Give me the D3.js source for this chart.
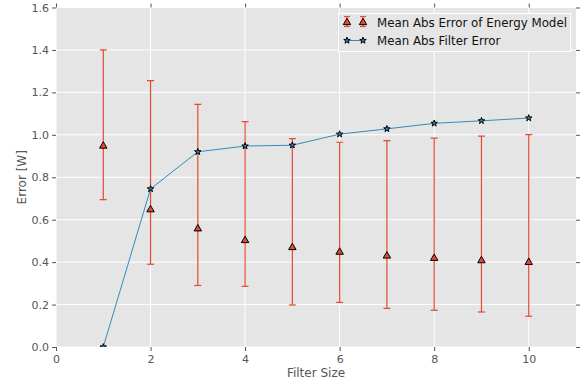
<!DOCTYPE html>
<html><head><meta charset="utf-8">
<script src="https://cdn.jsdelivr.net/npm/d3@7"></script>
<style>body{margin:0;background:#fff}svg{display:block}text{font-family:"DejaVu Sans",sans-serif}</style>
</head><body>
<script>
const filterSizes = [1,2,3,4,5,6,7,8,9,10];
const energyMean = [0.95,0.65,0.56,0.505,0.472,0.45,0.432,0.421,0.41,0.402];
const energyUpper = [1.40,1.255,1.143,1.062,0.982,0.965,0.973,0.984,0.994,1.001];
const energyLower = [0.695,0.39,0.29,0.286,0.198,0.21,0.182,0.173,0.165,0.145];
const filterError = [0.0,0.745,0.92,0.947,0.951,1.003,1.028,1.054,1.066,1.079];
const xTicks = [0,2,4,6,8,10];
const yTicks = [0.0,0.2,0.4,0.6,0.8,1.0,1.2,1.4,1.6];

const W=582,H=383, L=56, R=576, T=7.5, B=347;
const svg=d3.select("body").append("svg").attr("width",W).attr("height",H);
svg.append("clipPath").attr("id","clip").append("rect").attr("x",L).attr("y",T).attr("width",R-L).attr("height",B-T);
const x=d3.scaleLinear().domain([0,11]).range([L,R]);
const y=d3.scaleLinear().domain([0,1.6]).range([B,T]);
svg.append("rect").attr("x",L).attr("y",T).attr("width",R-L).attr("height",B-T).attr("fill","#E5E5E5");
const g=svg.append("g");
g.selectAll(".gx").data(xTicks).join("line").attr("x1",d=>x(d)).attr("x2",d=>x(d)).attr("y1",T).attr("y2",B).attr("stroke","#fff").attr("stroke-width",1);
g.selectAll(".gy").data(yTicks).join("line").attr("y1",d=>y(d)).attr("y2",d=>y(d)).attr("x1",L).attr("x2",R).attr("stroke","#fff").attr("stroke-width",1);

const tc="#555";
const xa=svg.append("g").attr("transform",`translate(0,${B})`).call(d3.axisBottom(x).tickValues(xTicks).tickFormat(d3.format("d")).tickSize(4).tickPadding(4));
const xt=svg.append("g").attr("transform",`translate(0,${T})`).call(d3.axisTop(x).tickValues(xTicks).tickFormat("").tickSize(4));
const ya=svg.append("g").attr("transform",`translate(${L},0)`).call(d3.axisLeft(y).tickValues(yTicks).tickFormat(d3.format(".1f")).tickSize(4).tickPadding(3));
const yr=svg.append("g").attr("transform",`translate(${R},0)`).call(d3.axisRight(y).tickValues(yTicks).tickFormat("").tickSize(4));
[xa,xt,ya,yr].forEach(a=>{a.select(".domain").remove();a.selectAll("line").attr("stroke",tc);a.selectAll("text").attr("fill",tc).style("font-size","11px").style("font-family","DejaVu Sans");});

const plot=svg.append("g").attr("clip-path","url(#clip)");
const eb=plot.append("g").attr("stroke","#E24A33").attr("stroke-width",1.2);
filterSizes.forEach((f,i)=>{
  eb.append("line").attr("x1",x(f)).attr("x2",x(f)).attr("y1",y(energyLower[i])).attr("y2",y(energyUpper[i]));
  [energyLower[i],energyUpper[i]].forEach(v=>eb.append("line").attr("x1",x(f)-3.5).attr("x2",x(f)+3.5).attr("y1",y(v)).attr("y2",y(v)));
});
plot.append("path").datum(filterSizes.map((f,i)=>[f,filterError[i]])).attr("d",d3.line().x(d=>x(d[0])).y(d=>y(d[1]))).attr("fill","none").attr("stroke","#348ABD").attr("stroke-width",1);
const tri=d3.symbol().type(d3.symbolTriangle).size(24);
const star=d3.symbol().type(d3.symbolStar).size(13);
plot.selectAll(".tri").data(filterSizes).join("path").attr("d",tri).attr("transform",(d,i)=>`translate(${x(d)},${y(energyMean[i])+0.6})`).attr("fill","#E24A33").attr("stroke","#000").attr("stroke-width",1);
plot.selectAll(".star").data(filterSizes).join("path").attr("d",star).attr("transform",(d,i)=>`translate(${x(d)},${y(filterError[i])})`).attr("fill","#348ABD").attr("stroke","#000").attr("stroke-width",1);

svg.append("text").attr("x",(L+R)/2).attr("y",377).attr("text-anchor","middle").attr("fill",tc).style("font-size","12px").text("Filter Size");
svg.append("text").attr("transform",`translate(26,${(T+B)/2}) rotate(-90)`).attr("text-anchor","middle").attr("fill",tc).style("font-size","12px").text("Error [W]");

const lg=svg.append("g");
lg.append("rect").attr("x",338.5).attr("y",13.5).attr("width",232).attr("height",38).attr("fill","#E5E5E5").attr("stroke","#fff").attr("stroke-width",1);
[347,363].forEach(px=>{
  lg.append("line").attr("x1",px).attr("x2",px).attr("y1",16.5).attr("y2",26.5).attr("stroke","#E24A33").attr("stroke-width",1.2);
  [16.5,26.5].forEach(py=>lg.append("line").attr("x1",px-3).attr("x2",px+3).attr("y1",py).attr("y2",py).attr("stroke","#E24A33").attr("stroke-width",1.2));
  lg.append("path").attr("d",tri).attr("transform",`translate(${px},22.5)`).attr("fill","#E24A33").attr("stroke","#000");
});
lg.append("line").attr("x1",347).attr("x2",363).attr("y1",40.5).attr("y2",40.5).attr("stroke","#348ABD");
[347,363].forEach(px=>lg.append("path").attr("d",star).attr("transform",`translate(${px},40.5)`).attr("fill","#348ABD").attr("stroke","#000"));
const t1=lg.append("text").attr("x",377).attr("y",27).attr("fill","#111").style("font-size","12px").text("Mean Abs Error of Energy Model");
const len=t1.node().getComputedTextLength();
const fs=Math.min(13,Math.max(10,12*190/len));
t1.style("font-size",fs+"px");
lg.append("text").attr("x",377).attr("y",45).attr("fill","#111").style("font-size",fs+"px").text("Mean Abs Filter Error");
</script>
</body></html>
